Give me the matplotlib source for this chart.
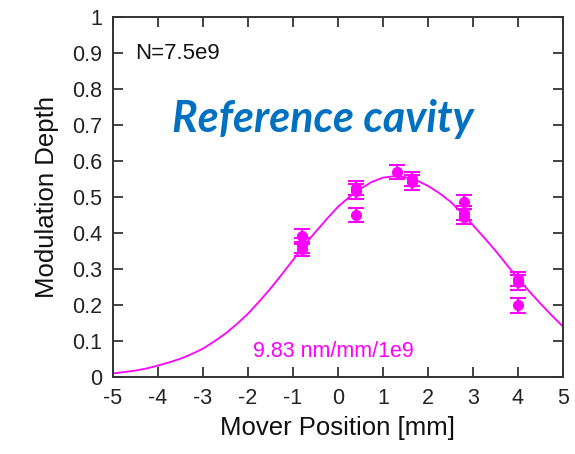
import matplotlib
matplotlib.use("Agg")
import matplotlib.pyplot as plt

# Measured points
pos = [-0.8, -0.8, -0.8, 0.4, 0.4, 0.4, 1.3, 1.65, 1.65, 2.8, 2.8, 2.8, 4.0, 4.0, 4.0]
depth = [0.39, 0.365, 0.355, 0.525, 0.515, 0.45, 0.568, 0.55, 0.54, 0.485, 0.455, 0.445, 0.272, 0.262, 0.198]
err = [0.02] * len(pos)

# Fit curve, values
curve_x = [-5, -4.75, -4.5, -4.25, -4, -3.75, -3.5, -3.25, -3, -2.75, -2.5, -2.25, -2, -1.75,
           -1.5, -1.25, -1, -0.75, -0.5, -0.25, 0, 0.25, 0.5, 0.75, 1.0, 1.25, 1.5, 1.75,
           2.0, 2.25, 2.5, 2.75, 3.0, 3.25, 3.5, 3.75, 4.0, 4.25, 4.5, 4.75, 5.0]
curve_y = [0.009, 0.013, 0.017, 0.023, 0.031, 0.040, 0.050, 0.063, 0.078, 0.098, 0.120, 0.146,
           0.175, 0.209, 0.245, 0.284, 0.324, 0.365, 0.402, 0.438, 0.472, 0.499, 0.522, 0.541,
           0.553, 0.557, 0.554, 0.545, 0.530, 0.510, 0.486, 0.455, 0.421, 0.386, 0.350, 0.311,
           0.273, 0.237, 0.203, 0.170, 0.139]

xticks = [-5, -4, -3, -2, -1, 0, 1, 2, 3, 4, 5]
yticks = [0, 0.1, 0.2, 0.3, 0.4, 0.5, 0.6, 0.7, 0.8, 0.9, 1]
ytick_labels = ['0', '0.1', '0.2', '0.3', '0.4', '0.5', '0.6', '0.7', '0.8', '0.9', '1']

plt.rcParams['font.family'] = ['Liberation Sans', 'DejaVu Sans']
mag = '#FF00FF'

fig = plt.figure(figsize=(5.75, 4.54), dpi=100)
ax = fig.add_axes([113/575, 1-376.7/454, 450/575, 360/454])

ax.plot(curve_x, curve_y, color=mag, lw=1.3, zorder=2, solid_joinstyle='round')
ax.errorbar(pos, depth, yerr=err, fmt='o', color=mag, ms=7, elinewidth=1.5,
            capsize=5.5, capthick=1.5, zorder=3)

ax.set_xlim(-5, 5)
ax.set_ylim(0, 1)
ax.set_xticks(xticks)
ax.set_yticks(yticks)
ax.set_xticklabels([str(t) for t in xticks])
ax.set_yticklabels(ytick_labels)
ax.tick_params(direction='in', length=7, width=1.2, top=True, right=True,
               labelsize=15.5, colors='#222222', pad=8)
for s in ax.spines.values():
    s.set_linewidth(1.4)
    s.set_color('#333333')

ax.set_xlabel('Mover Position [mm]', fontsize=18.5, labelpad=5, color='#111111')
ax.set_ylabel('Modulation Depth', fontsize=18.5, labelpad=9, color='#111111')

ax.text(0.05, 0.899, 'N=7.5e9', transform=ax.transAxes, fontsize=16,
        color='#111111', va='center', ha='left')
ax.text(-0.1, 0.071, '9.83 nm/mm/1e9', fontsize=15.5, color=mag,
        ha='center', va='center')
ax.text(0.467, 0.715, 'Reference cavity', transform=ax.transAxes,
        fontsize=31, color='#0070C0', fontweight='bold', fontstyle='italic',
        family=['Lato', 'DejaVu Sans'], ha='center', va='center')

fig.savefig('out.png', dpi=100)
